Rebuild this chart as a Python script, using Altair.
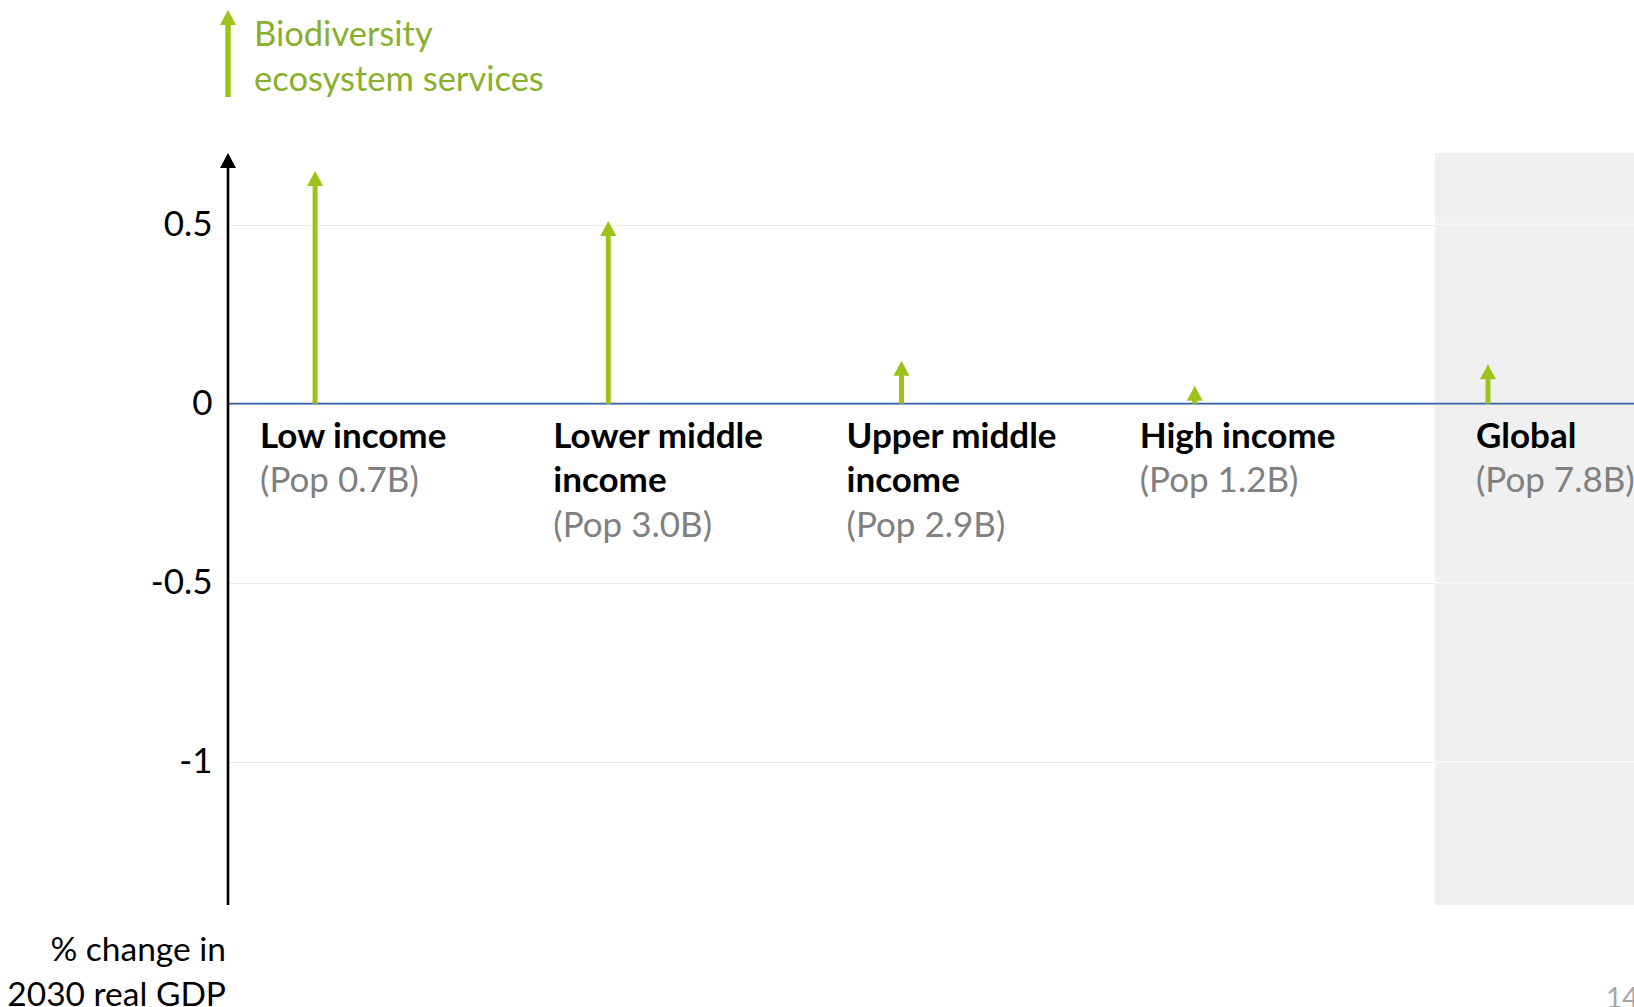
import altair as alt
import pandas as pd

# ---------------- data ----------------
categories = ["Low income", "Lower middle income", "Upper middle income", "High income", "Global"]
label_lines = [["Low income"], ["Lower middle", "income"], ["Upper middle", "income"], ["High income"], ["Global"]]
populations = ["(Pop 0.7B)", "(Pop 3.0B)", "(Pop 2.9B)", "(Pop 1.2B)", "(Pop 7.8B)"]
biodiversity = [0.65, 0.51, 0.12, 0.05, 0.11]
y_ticks = [0.5, 0, -0.5, -1]
legend_lines = ["Biodiversity", "ecosystem services"]
axis_title_lines = ["% change in", "2030 real GDP"]
page_number = "14"

# ---------------- style ----------------
W, H = 1406, 752
FONT = "Lato"
FS = 35
LH = 44.5
GREEN = "#9BC31A"
GREEN_TXT = "#89B02C"
BLUE = "#3560A8"
GRAY_TXT = "#808080"
PANEL = "#F0F0F0"
HEAD = "M0,0L0.5,0.94L-0.5,0.94Z"   # tip at the anchor point
HEAD_SIZE = 1024

xscale = alt.Scale(domain=[-0.297, 4.498], nice=False, zero=False)
yscale = alt.Scale(domain=[-1.4, 0.7], nice=False, zero=False)
yaxis = alt.Axis(values=y_ticks, grid=True, gridColor="#EBEBEB", gridWidth=1,
                 domain=False, ticks=False, labelPadding=16,
                 labelFont=FONT, labelFontSize=FS, labelColor="#000000",
                 labelExpr="toString(datum.value)", labelBaseline="middle", title=None)


def Y(field):
    return alt.Y(field, scale=yscale, axis=yaxis, title=None)


def X(field):
    return alt.X(field, scale=xscale, axis=None)


bars = pd.DataFrame({"cat": categories, "idx": list(range(len(categories))), "value": biodiversity})
g_idx = categories.index("Global")

rows = []
for i, (lines, pop) in enumerate(zip(label_lines, populations)):
    for j, t in enumerate(lines):
        rows.append({"cat": categories[i], "idx": i, "line": j, "kind": "name", "t": t})
    rows.append({"cat": categories[i], "idx": i, "line": len(lines), "kind": "pop", "t": pop})
labels = pd.DataFrame(rows)

one = pd.DataFrame({"a": [0]})

# panel behind Global
panel = alt.Chart(bars[bars.cat == "Global"]).mark_rect(color=PANEL, xOffset=-53).encode(
    x=X("idx:Q"),
    x2=alt.value(W),
    y=alt.value(0),
    y2=alt.value(H),
)

# axis with grid (drawn behind marks)
axis_layer = alt.Chart(pd.DataFrame({"tick": y_ticks})).mark_rule(opacity=0).encode(
    y=Y("tick:Q"),
    x=alt.value(0),
)

# light grid lines through the panel
grid_df = pd.DataFrame({"tick": [t for t in y_ticks if t != 0], "idx": g_idx})
panel_grid = alt.Chart(grid_df).mark_rule(color="#FAFAFA", strokeWidth=1.5, xOffset=-53).encode(
    x=X("idx:Q"),
    x2=alt.value(W),
    y=Y("tick:Q"),
)

zero_line = alt.Chart(pd.DataFrame({"z": [0]})).mark_rule(color=BLUE, strokeWidth=1.6).encode(
    y=Y("z:Q"),
    x=alt.value(0),
    x2=alt.value(W),
)

# y axis line with arrow head
yaxis_line = alt.Chart(one).mark_rule(color="black", strokeWidth=2.6).encode(
    x=alt.value(0), y=alt.value(H), y2=alt.value(10)
)
yaxis_head = alt.Chart(one).mark_point(shape=HEAD, filled=True, size=HEAD_SIZE, color="black",
                                       opacity=1, strokeWidth=0).encode(
    x=alt.value(0), y=alt.value(0)
)

# arrows
shafts = alt.Chart(bars).transform_calculate(base="0").mark_rule(
    color=GREEN, strokeWidth=5, yOffset=10).encode(
    x=X("idx:Q"),
    y=Y("value:Q"),
    y2="base:Q",
)
heads = alt.Chart(bars).mark_point(shape=HEAD, filled=True, size=HEAD_SIZE, color=GREEN,
                                   opacity=1, strokeWidth=0).encode(
    x=X("idx:Q"),
    y=Y("value:Q"),
)

# category labels
text_layers = []
for line in range(3):
    for kind in ["name", "pop"]:
        for is_global in [False, True]:
            sub = labels[(labels.line == line) & (labels.kind == kind) & ((labels.cat == "Global") == is_global)]
            if len(sub) == 0:
                continue
            sub = sub.assign(z=0)
            text_layers.append(
                alt.Chart(sub).mark_text(
                    align="left", baseline="alphabetic", font=FONT, fontSize=FS,
                    fontWeight="bold" if kind == "name" else "normal",
                    color="#000000" if kind == "name" else GRAY_TXT,
                    dx=-12 if is_global else -55,
                    dy=44 + LH * line,
                ).encode(
                    x=X("idx:Q"),
                    y=Y("z:Q"),
                    text="t:N",
                )
            )

# legend
leg_shaft = alt.Chart(one).mark_rule(color=GREEN, strokeWidth=5.5).encode(
    x=alt.value(0), y=alt.value(-56), y2=alt.value(-133)
)
leg_head = alt.Chart(one).mark_point(shape=HEAD, filled=True, size=HEAD_SIZE, color=GREEN,
                                     opacity=1, strokeWidth=0).encode(
    x=alt.value(0), y=alt.value(-143)
)
leg_text = [
    alt.Chart(pd.DataFrame({"t": [t]})).mark_text(
        align="left", baseline="alphabetic", font=FONT, fontSize=34.5, color=GREEN_TXT
    ).encode(x=alt.value(26), y=alt.value(-107 + LH * k), text="t:N")
    for k, t in enumerate(legend_lines)
]

# axis title
title_text = [
    alt.Chart(pd.DataFrame({"t": [t]})).mark_text(
        align="right", baseline="alphabetic", font=FONT, fontSize=33.5, color="#000000"
    ).encode(x=alt.value(-2), y=alt.value(808 + LH * k), text="t:N")
    for k, t in enumerate(axis_title_lines)
]

page = alt.Chart(pd.DataFrame({"t": [page_number]})).mark_text(
    align="left", baseline="alphabetic", font=FONT, fontSize=28, color="#A6A6A6"
).encode(x=alt.value(1378), y=alt.value(855), text="t:N")

chart = alt.layer(
    panel, axis_layer, panel_grid, zero_line, yaxis_line, yaxis_head, shafts, heads,
    *text_layers, leg_shaft, leg_head, *leg_text, *title_text, page
).properties(
    width=W, height=H,
    padding={"left": 228, "top": 153, "right": 0, "bottom": 102},
    autosize=alt.AutoSizeParams(type="none"),
    background="white",
).configure_view(stroke=None)

chart.save("out.html", embed_options={"renderer": "svg", "actions": False})
